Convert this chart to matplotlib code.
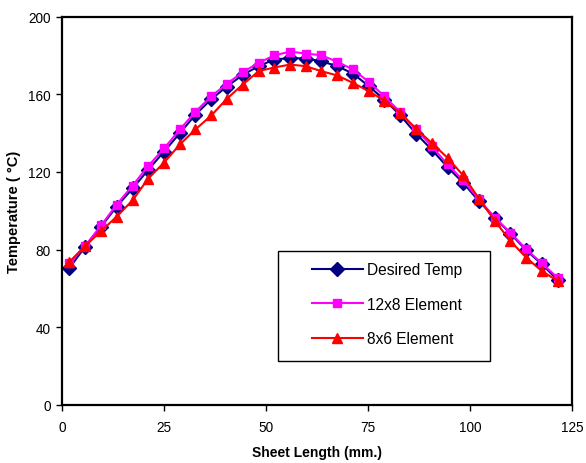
import matplotlib
matplotlib.use("Agg")
import matplotlib.pyplot as plt
from matplotlib.patches import Rectangle

plt.rcParams['font.family'] = ['Liberation Sans', 'DejaVu Sans']

x_mm = [1.8, 5.7, 9.6, 13.4, 17.3, 21.1, 25.0, 28.9, 32.7, 36.6, 40.4, 44.3,
        48.2, 52.0, 55.9, 59.7, 63.6, 67.5, 71.3, 75.2, 79.0, 82.9, 86.8, 90.6,
        94.5, 98.3, 102.2, 106.1, 109.9, 113.8, 117.6, 121.5]

desired = [70.5, 81.6, 91.9, 102.2, 111.5, 121.0, 130.5, 140.0, 149.5, 157.5,
           164.0, 170.0, 174.5, 177.9, 178.7, 178.4, 177.0, 174.5, 170.7, 164.2,
           157.3, 149.2, 139.7, 131.6, 122.5, 114.5, 105.0, 96.5, 88.3, 79.7,
           72.5, 64.4]

elem_12x8 = [73.0, 82.0, 92.5, 103.2, 113.0, 123.0, 132.1, 141.9, 151.0, 159.0,
             165.4, 171.4, 176.2, 180.0, 182.0, 181.0, 180.1, 176.7, 172.8, 166.4,
             159.0, 150.8, 141.9, 133.3, 123.9, 115.8, 105.9, 96.5, 88.8, 80.2,
             73.0, 65.5]

elem_8x6 = [73.7, 81.9, 89.6, 97.0, 105.4, 116.5, 124.8, 134.2, 141.9, 149.1,
            157.7, 165.0, 171.9, 173.8, 175.3, 174.5, 171.9, 169.7, 165.9, 161.6,
            156.8, 150.4, 142.2, 135.0, 127.3, 118.3, 106.3, 94.8, 84.5, 75.9,
            69.0, 63.9]

x_ticks = [0, 25, 50, 75, 100, 125]
y_ticks = [0, 40, 80, 120, 160, 200]

fig = plt.figure(figsize=(5.86, 4.64), dpi=100)
ax = fig.add_axes([0.1058, 0.125, 0.8702, 0.837])

ax.plot(x_mm, desired, color='#000080', lw=1.5, marker='D', ms=6.8,
        label='Desired Temp')
ax.plot(x_mm, elem_12x8, color='#FF00FF', lw=1.5, marker='s', ms=6,
        label='12x8 Element')
ax.plot(x_mm, elem_8x6, color='#FF0000', lw=1.5, marker='^', ms=7.5,
        label='8x6 Element')

ax.set_xlim(0, 125)
ax.set_ylim(0, 200)
ax.set_xticks(x_ticks)
ax.set_yticks(y_ticks)
ax.tick_params(direction='out', length=4, width=1, labelsize=9.8,
               colors='black')
ax.tick_params(axis='y', pad=4)
ax.tick_params(axis='x', pad=7)
for s in ax.spines.values():
    s.set_linewidth(1.6)
    s.set_color('black')

ax.set_xlabel('Sheet Length (mm.)', fontsize=10, fontweight='bold', labelpad=8)
ax.set_ylabel('Temperature ( °C)', fontsize=10.5, fontweight='bold', labelpad=5)

# legend frame
frame = Rectangle((0.4235, 0.113), 0.4155, 0.283, transform=ax.transAxes,
                  facecolor='white', edgecolor='black', linewidth=1.0,
                  zorder=4.5, clip_on=False)
ax.add_patch(frame)

leg = ax.legend(loc='center left', bbox_to_anchor=(0.490, 0.2596),
                fontsize=11.2, frameon=False, borderaxespad=0, borderpad=0,
                handlelength=3.28, labelspacing=1.25, handletextpad=0.26)
leg.set_zorder(5)

fig.savefig('out.png', dpi=100, facecolor='white')
